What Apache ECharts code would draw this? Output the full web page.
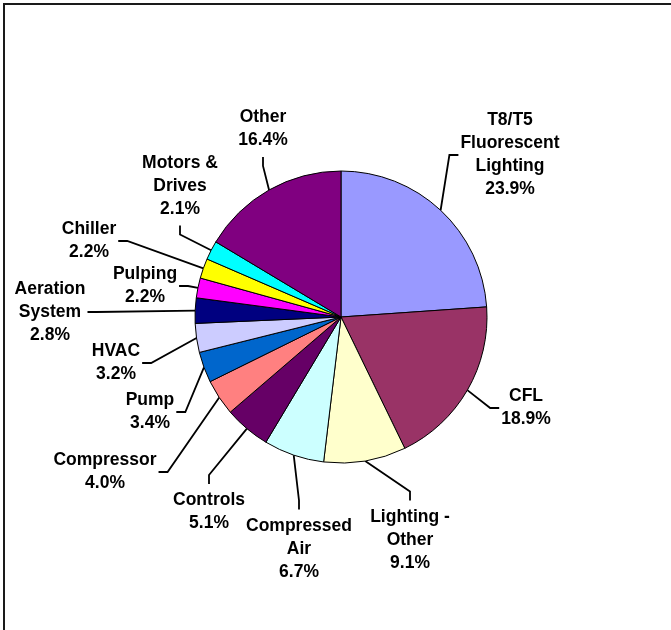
<!DOCTYPE html>
<html>
<head>
<meta charset="utf-8">
<script src="https://cdn.jsdelivr.net/npm/echarts@6/dist/echarts.min.js"></script>
<style>
  html, body { margin: 0; padding: 0; background: #ffffff; }
  #chart { width: 671px; height: 630px; }
</style>
</head>
<body>
<div id="chart"></div>
<script>
// Energy-savings share by measure category (percent)
const categories = [
  'T8/T5\nFluorescent\nLighting', 'CFL', 'Lighting -\nOther', 'Compressed\nAir',
  'Controls', 'Compressor', 'Pump', 'HVAC', 'Aeration\nSystem', 'Pulping',
  'Chiller', 'Motors &\nDrives', 'Other'
];
const shares = [23.9, 18.9, 9.1, 6.7, 5.1, 4.0, 3.4, 3.2, 2.8, 2.2, 2.2, 2.1, 16.4];
const sliceColors = [
  '#9999FF', '#993366', '#FFFFCC', '#CCFFFF', '#660066', '#FF8080', '#0066CC',
  '#CCCCFF', '#000080', '#FF00FF', '#FFFF00', '#00FFFF', '#800080'
];

// Label block centre [x, y] and the side of the block the leader line meets
const labelPlacement = [
  [510, 155, 'left'],
  [526, 408, 'left'],
  [410, 540, 'top'],
  [299, 549, 'top'],
  [209, 512, 'top'],
  [105, 472, 'right'],
  [150, 412, 'right'],
  [116, 363, 'right'],
  [50, 312, 'right'],
  [145, 286, 'right'],
  [89, 241, 'right'],
  [180, 186, 'bottom'],
  [263, 129, 'bottom']
];

const chart = echarts.init(document.getElementById('chart'), null, { renderer: 'canvas' });

// Midpoint of a slice's outer arc, taken from the pie layout
function arcMidpoint(params) {
  if (params.labelLinePoints && params.labelLinePoints[0]) {
    return params.labelLinePoints[0].slice();
  }
  const layout = chart.getModel().getSeriesByIndex(0).getData().getItemLayout(params.dataIndex);
  const a = (layout.startAngle + layout.endAngle) / 2;
  return [layout.cx + layout.r * Math.cos(a), layout.cy + layout.r * Math.sin(a)];
}

const option = {
  animation: false,
  backgroundColor: '#ffffff',
  graphic: [{
    type: 'rect',
    silent: true,
    z: -1,
    shape: { x: 4, y: 4, width: 900, height: 900 },
    style: { fill: 'none', stroke: '#1a1a1a', lineWidth: 2 }
  }],
  series: [{
    type: 'pie',
    center: [341, 317],
    radius: 146,
    startAngle: 90,
    clockwise: true,
    avoidLabelOverlap: false,
    emphasis: { disabled: true },
    itemStyle: { borderColor: '#000000', borderWidth: 1 },
    label: {
      show: true,
      position: 'outside',
      overflow: 'none',
      color: '#000000',
      fontFamily: '"Liberation Sans", Arial, sans-serif',
      fontWeight: 'bold',
      fontSize: 17.5,
      lineHeight: 23,
      formatter: p => p.name + '\n' + p.value.toFixed(1) + '%'
    },
    labelLine: {
      show: true,
      smooth: false,
      lineStyle: { color: '#000000', width: 1.8 }
    },
    labelLayout: function (params) {
      const place = labelPlacement[params.dataIndex];
      const x = place[0], y = place[1], side = place[2];
      const w = params.labelRect.width, h = params.labelRect.height;
      let end, mid;
      if (side === 'left') {
        end = [x - w / 2 - 2, y]; mid = [end[0] - 9, y];
      } else if (side === 'right') {
        end = [x + w / 2 + 2, y]; mid = [end[0] + 9, y];
      } else if (side === 'top') {
        end = [x, y - h / 2 - 5]; mid = [x, end[1] - 9];
      } else {
        end = [x, y + h / 2 + 5]; mid = [x, end[1] + 9];
      }
      return {
        x: x,
        y: y,
        align: 'center',
        verticalAlign: 'middle',
        labelLinePoints: [arcMidpoint(params), mid, end]
      };
    },
    data: categories.map((name, i) => ({
      name: name,
      value: shares[i],
      itemStyle: { color: sliceColors[i] }
    }))
  }]
};

chart.setOption(option);
</script>
</body>
</html>
